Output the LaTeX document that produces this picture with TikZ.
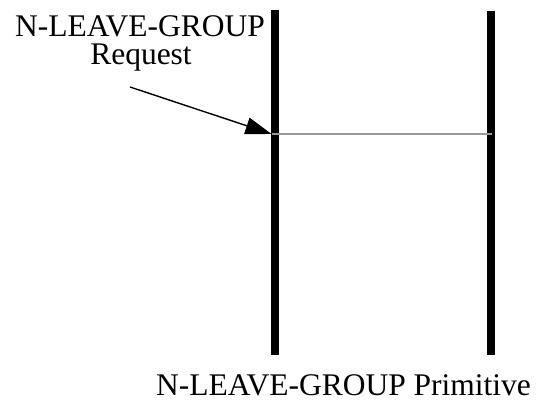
\documentclass[tikz,border=0pt]{standalone}
\usepackage{fontspec}
\setmainfont{Liberation Serif}
\usetikzlibrary{arrows.meta}
\begin{document}
\begin{tikzpicture}[x=1pt,y=-1pt,
  lbl/.style={anchor=base,inner sep=0pt,font=\fontsize{31.5}{37}\selectfont},
  bar/.style={line width=8pt},
  msg/.style={line width=1.6pt,draw=black!40},
  ptr/.style={line width=1.4pt,-{Triangle[length=26pt,width=17pt]}}]
\useasboundingbox (0,0) rectangle (542,401);
\coordinate (a1) at (275,10);
\coordinate (a2) at (275,355);
\coordinate (b1) at (491,11);
\coordinate (b2) at (491,355);
\draw[bar] (a1) -- (a2);
\draw[bar] (b1) -- (b2);
\coordinate (tip) at (271.5,134);
\coordinate (end) at (492,134);
\draw[msg] (tip) -- (end);
\node[lbl] (t1) at (140,37) {N-LEAVE-GROUP};
\node[lbl] (t2) at (141,65) {Request};
\coordinate (start) at (130,87);
\draw[ptr] (start) -- (tip);
\node[lbl] (t3) at (343.5,396) {N-LEAVE-GROUP Primitive};
\end{tikzpicture}
\end{document}
